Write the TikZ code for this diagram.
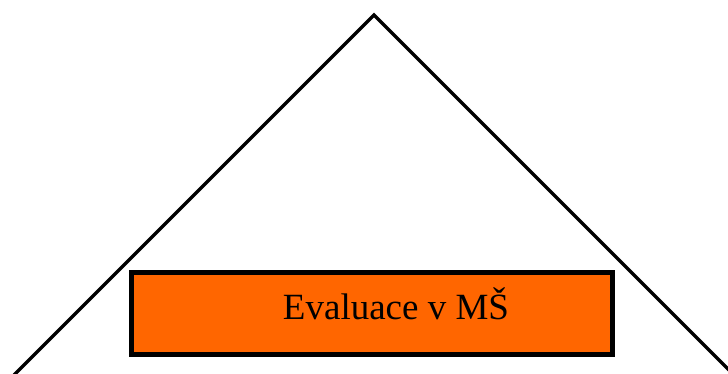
\documentclass[tikz,border=0pt]{standalone}
\usepackage{fontspec}
\setmainfont{Liberation Serif}
\usepackage{tikz}
\usetikzlibrary{positioning}
\definecolor{BoxOrange}{RGB}{255,102,0}

\begin{document}
\begin{tikzpicture}[x=1pt,y=-1pt,
    roof/.style={draw=black,line width=3.2pt,miter limit=10},
    box/.style={draw=black,fill=BoxOrange,line width=5pt,
                minimum width=481pt,minimum height=82pt,inner sep=0pt},
    boxtext/.style={font=\fontsize{37}{41}\selectfont,text=black,inner sep=0pt}]

    \useasboundingbox (0,0) rectangle (728,374);

    \coordinate (apex)  at (374,15);
    \coordinate (left)  at (14,375);
    \coordinate (right) at (734,375);
    \draw[roof] (left) -- (apex) -- (right);

    \node[box] (eval) at (372,313.5) {};
    \node[boxtext,anchor=base] (evaltext) at (396,319) {Evaluace v MŠ};
  \end{tikzpicture}
\end{document}
